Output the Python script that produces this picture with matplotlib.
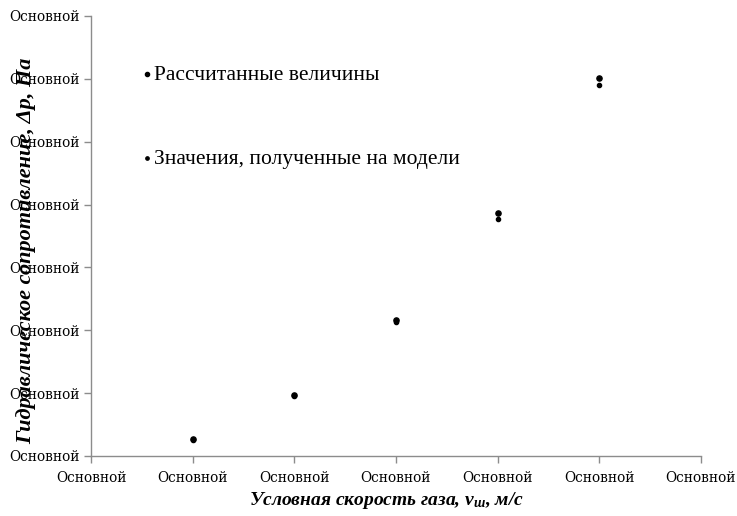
import matplotlib
matplotlib.use("Agg")
import matplotlib.pyplot as plt

# Gas velocity positions (axis units) and measured pressure drops
x_calc = [1, 2, 3, 4, 5]
dp_calc = [0.27, 0.97, 2.16, 3.86, 6.02]
x_model = [1, 2, 3, 4, 5]
dp_model = [0.26, 0.96, 2.13, 3.77, 5.90]

x_ticks = [0, 1, 2, 3, 4, 5, 6]
y_ticks = [0, 1, 2, 3, 4, 5, 6, 7]
tick_text = "Основной"

label_calc = "Рассчитанные величины"
label_model = "Значения, полученные на модели"
x_title = "Условная скорость газа, $v_{ш}$, м/с"
y_title = "Гидравлическое сопротивление, Δp, Па"

plt.rcParams["font.family"] = ["Liberation Serif", "DejaVu Serif"]
plt.rcParams["mathtext.fontset"] = "custom"
plt.rcParams["mathtext.it"] = "Liberation Serif:italic:bold"
plt.rcParams["mathtext.rm"] = "Liberation Serif:bold"

fig = plt.figure(figsize=(7.37, 5.16), dpi=100)
ax = fig.add_axes([0.1235, 0.1163, 0.8275, 0.8527])

ax.scatter(x_calc, dp_calc, s=14, color="black", label=label_calc, zorder=3)
ax.scatter(x_model, dp_model, s=9, color="black", label=label_model, zorder=3)

ax.set_xlim(0, 6)
ax.set_ylim(0, 7)
ax.set_xticks(x_ticks)
ax.set_yticks(y_ticks)
tick_font = dict(family="DejaVu Serif", size=9.8)
ax.set_xticklabels([tick_text] * len(x_ticks), **tick_font)
ax.set_yticklabels([tick_text] * len(y_ticks), **tick_font)

for side in ("top", "right"):
    ax.spines[side].set_visible(False)
for side in ("left", "bottom"):
    ax.spines[side].set_color("#8c8c8c")
    ax.spines[side].set_linewidth(1.0)
ax.tick_params(axis="both", colors="#8c8c8c", labelcolor="black",
               length=5, width=1.0, direction="out")
ax.tick_params(axis="x", pad=6)
ax.tick_params(axis="y", pad=3)

fig.text(0.525, 0.031, x_title, fontsize=14, fontstyle="italic",
         fontweight="bold", ha="center", va="center")
fig.text(0.035, 0.513, y_title, rotation=90, fontsize=16,
         fontstyle="italic", fontweight="bold", ha="center", va="center")

leg = ax.legend(loc="upper left", bbox_to_anchor=(0.189, 0.875),
                bbox_transform=fig.transFigure, frameon=False,
                fontsize=15.5, labelspacing=2.98, handletextpad=0.0,
                handlelength=0.7, borderpad=0.0, borderaxespad=0.0,
                markerscale=0.8)

fig.savefig("out.png", dpi=100, facecolor="white")
